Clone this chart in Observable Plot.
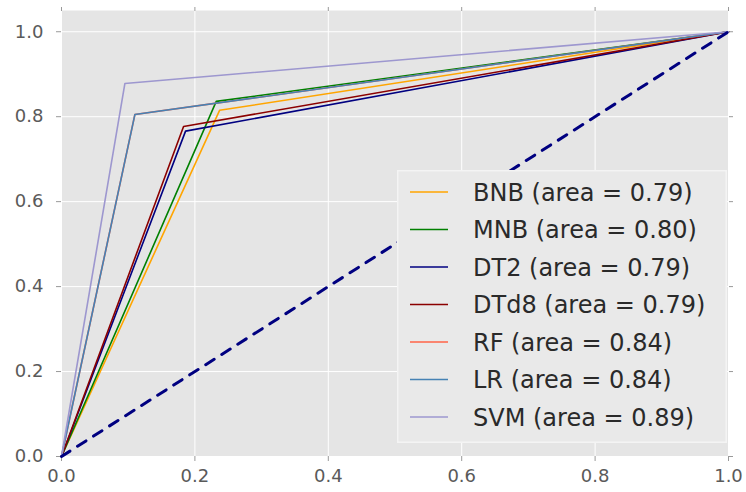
<!DOCTYPE html>
<html>
<head>
<meta charset="utf-8">
<script src="https://cdn.jsdelivr.net/npm/d3@7"></script>
<script src="https://cdn.jsdelivr.net/npm/@observablehq/plot@0.6"></script>
<style>
  html, body { margin: 0; padding: 0; background: white; }
  #wrap { position: relative; width: 746px; height: 492px; }
  #legend { position: absolute; left: 397px; top: 170px; }
</style>
</head>
<body>
<div id="wrap"></div>
<script>
// ROC curve data: one operating point per classifier
const names = ["BNB", "MNB", "DT2", "DTd8", "RF", "LR", "SVM"];
const areas = ["0.79", "0.80", "0.79", "0.79", "0.84", "0.84", "0.89"];
const fpr = [0.237, 0.232, 0.186, 0.183, 0.11, 0.11, 0.095];
const tpr = [0.815, 0.836, 0.766, 0.777, 0.805, 0.805, 0.878];
const colors = ["orange", "green", "navy", "darkred", "tomato", "steelblue", "#9d97cf"];
const ticks = [0, 0.2, 0.4, 0.6, 0.8, 1.0];
const tickLabels = ["0.0", "0.2", "0.4", "0.6", "0.8", "1.0"];
const chance = [0, 1];

const rows = [];
names.forEach((n, i) => {
  rows.push({name: n, x: 0, y: 0});
  rows.push({name: n, x: fpr[i], y: tpr[i]});
  rows.push({name: n, x: 1, y: 1});
});
const diag = chance.map(v => ({x: v, y: v}));
const fmt = d => tickLabels[ticks.indexOf(d)] ?? d3.format(".1f")(d);
const blank = () => "";

const chart = Plot.plot({
  width: 746,
  height: 492,
  marginLeft: 61,
  marginRight: 18,
  marginTop: 10,
  marginBottom: 36,
  style: {background: "white", fontFamily: "DejaVu Sans", fontSize: "18px", color: "#555"},
  x: {domain: [0, 1], ticks, label: null},
  y: {domain: [0, 1.05], ticks, label: null},
  color: {domain: names, range: colors},
  marks: [
    Plot.frame({fill: "#e5e5e5", stroke: null}),
    Plot.gridX(ticks, {stroke: "white", strokeOpacity: 1, strokeWidth: 1}),
    Plot.gridY(ticks, {stroke: "white", strokeOpacity: 1, strokeWidth: 1}),
    Plot.axisX(ticks, {anchor: "bottom", tickSize: 5, tickPadding: 8, tickFormat: fmt, stroke: "#999", fill: "#5a5a5a", label: null}),
    Plot.axisX(ticks, {anchor: "top", tickSize: 4, tickFormat: blank, stroke: "#999", label: null}),
    Plot.axisY(ticks, {anchor: "left", tickSize: 5, tickPadding: 13, tickFormat: fmt, stroke: "#999", fill: "#5a5a5a", label: null}),
    Plot.axisY(ticks, {anchor: "right", tickSize: 4, tickFormat: blank, stroke: "#999", label: null}),
    Plot.line(rows, {x: "x", y: "y", z: "name", stroke: "name", strokeWidth: 1.6}),
    Plot.line(diag, {x: "x", y: "y", stroke: "navy", strokeWidth: 3, strokeDasharray: "10,9"})
  ]
});
document.getElementById("wrap").appendChild(chart);

// Legend overlay (inside plot, lower right)
const lw = 330, lh = 273, rowGap = 37.5, firstRow = 22;
const leg = d3.select("#wrap").append("svg")
  .attr("id", "legend")
  .attr("width", lw).attr("height", lh);
leg.append("rect")
  .attr("x", 0.75).attr("y", 0.75)
  .attr("width", lw - 1.5).attr("height", lh - 1.5)
  .attr("fill", "#e9e9e9").attr("stroke", "#f4f4f4").attr("stroke-width", 1.5);
names.forEach((n, i) => {
  const yy = firstRow + i * rowGap;
  leg.append("line")
    .attr("x1", 13).attr("x2", 51).attr("y1", yy).attr("y2", yy)
    .attr("stroke", colors[i]).attr("stroke-width", 1.6);
  leg.append("text")
    .attr("x", 76).attr("y", yy)
    .attr("dy", "0.36em")
    .attr("font-family", "DejaVu Sans")
    .attr("font-size", 24)
    .attr("fill", "#2a2a2a")
    .text(`${n} (area = ${areas[i]})`);
});
</script>
</body>
</html>
